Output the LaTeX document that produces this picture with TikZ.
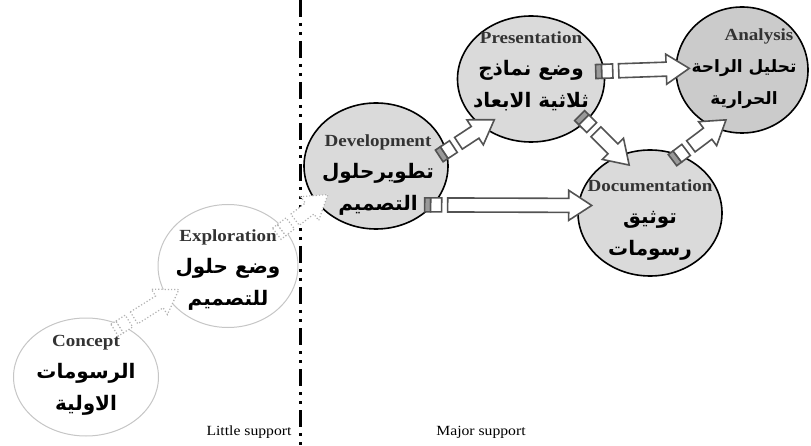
\documentclass[tikz,border=0pt]{standalone}
\usepackage{fontspec}
\setmainfont[FakeStretch=1.12]{Liberation Serif}
\newfontfamily\arabicfont[Script=Arabic]{DejaVu Sans}
\TeXXeTstate=1
\usetikzlibrary{shapes.geometric,calc}

\definecolor{stagegrey}{HTML}{DADADA}
\definecolor{deepgrey}{HTML}{CBCBCB}
\definecolor{tailgrey}{HTML}{9A9A9A}

% arabic line and bold latin title
\newcommand{\artext}[1]{{\arabicfont\bfseries\beginR #1\endR}}
\newcommand{\stagename}[1]{{\fontsize{17}{32}\selectfont\bfseries\color{black!80} #1}}

% hollow block arrow from #2 to #3, with its little tail boxes
\newcommand{\blockarrow}[3][solidarr]{%
  \coordinate (ba0) at ($(#2)!-9pt!(#3)$);
  \coordinate (ba1) at ($(#2)!-3pt!(#3)$);
  \coordinate (ba2) at ($(#2)!8pt!(#3)$);
  \coordinate (ba3) at ($(#2)!14pt!(#3)$);
  \coordinate (ba5) at ($(#3)!-14pt!(#2)$);
  \coordinate (ba4) at ($(ba5)!23pt!(#2)$);
  \filldraw[fill=tailgrey, #1] ($(ba0)!7pt!90:(ba5)$) -- ($(ba1)!7pt!90:(ba5)$)
     -- ($(ba1)!7pt!-90:(ba5)$) -- ($(ba0)!7pt!-90:(ba5)$) -- cycle;
  \filldraw[#1, fill=white] ($(ba1)!7pt!90:(ba5)$) -- ($(ba2)!7pt!90:(ba5)$)
     -- ($(ba2)!7pt!-90:(ba5)$) -- ($(ba1)!7pt!-90:(ba5)$) -- cycle;
  \filldraw[#1, fill=white] ($(ba3)!7pt!90:(ba5)$) -- ($(ba4)!7pt!90:(ba5)$)
     -- ($(ba4)!15pt!90:(ba5)$) -- (ba5) -- ($(ba4)!15pt!-90:(ba5)$)
     -- ($(ba4)!7pt!-90:(ba5)$) -- ($(ba3)!7pt!-90:(ba5)$) -- cycle;
}

\begin{document}
\begin{tikzpicture}[x=1pt, y=-1pt,
  stage/.style={ellipse, minimum width=144pt, minimum height=126pt, inner sep=0pt},
  stagetext/.style={align=center, inner sep=0pt, font=\fontsize{20}{32}\selectfont},
  shaded/.style={draw=black, line width=1.6pt, fill=stagegrey},
  pale/.style={draw=gray!45, line width=1pt, fill=white},
  solidarr/.style={draw=gray!65!black, line width=1.6pt},
  dotarr/.style={draw=gray!60, line width=1.2pt, dotted, fill=white},
  divider/.style={line width=3pt, dash pattern=on 17pt off 6pt on 3pt off 6pt on 3pt off 6pt},
  note/.style={font=\fontsize{14}{16}\selectfont}]
\useasboundingbox (0,0) rectangle (811,446);

\coordinate (divtop) at (300,0);
\coordinate (divbot) at (300,446);
\draw [divider] (divtop) -- (divbot);

% stages
\draw (86,377) node[stage, pale, minimum width=145pt, minimum height=118pt] (con) {};
\draw (228,266) node[stage, pale, minimum width=140pt, minimum height=123pt] (exp) {};
\draw (376,166) node[stage, shaded] (dev) {};
\draw (531,79) node[stage, shaded, minimum width=147pt] (pres) {};
\draw (742,70) node[stage, shaded, fill=deepgrey, minimum width=132pt] (ana) {};
\draw (650,213) node[stage, shaded] (doc) {};

\draw (con) ++(0,-2) node[stagetext] (context)
  {\stagename{Concept}\\ \artext{الرسومات}\\ \artext{الاولية}};
\draw (exp) ++(0,4) node[stagetext] (exptext)
  {\stagename{Exploration}\\ \artext{وضع حلول}\\ \artext{للتصميم}};
\draw (dev) ++(2,9) node[stagetext] (devtext)
  {\stagename{Development}\\ \artext{تطويرحلول}\\ \artext{التصميم}};
\draw (pres) ++(0,-8) node[stagetext] (prestext)
  {\stagename{Presentation}\\ \artext{وضع نماذج}\\ \artext{ثلاثية الابعاد}};
\draw (ana) ++(2,-1) node[stagetext, font=\fontsize{17}{32}\selectfont] (anatext)
  {\stagename{\hspace*{30pt}Analysis}\\ \artext{تحليل الراحة}\\ \artext{الحرارية}};
\draw (doc) ++(0,7) node[stagetext] (doctext)
  {\stagename{Documentation}\\ \artext{توثيق}\\ \artext{رسومات}};

% arrows
\blockarrow[dotarr]{con.55}{exp.207}
\blockarrow[dotarr]{exp.34}{dev.212}
\blockarrow{dev.12}{pres.225}
\blockarrow{dev.-34}{doc.174}
\blockarrow{pres.6}{ana.179}
\blockarrow{pres.-38}{doc.118}
\blockarrow{doc.63}{ana.245}

\draw (249,432) node[note] (little) {Little support};
\draw (481,432) node[note] (major) {Major support};
\end{tikzpicture}
\end{document}
